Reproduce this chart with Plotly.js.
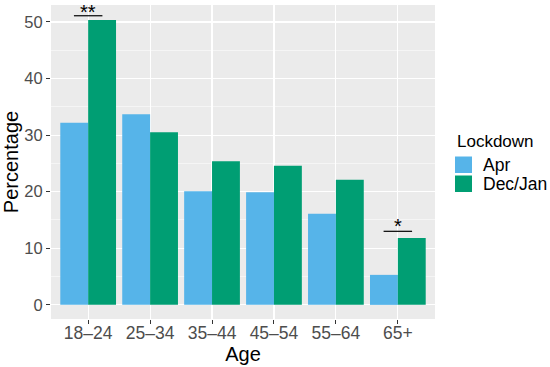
<!DOCTYPE html>
<html>
<head>
<meta charset="utf-8">
<script src="https://cdn.plot.ly/plotly-3.0.1.min.js"></script>
<style>html,body{margin:0;padding:0;background:#fff}#chart{width:550px;height:367px}</style>
</head>
<body>
<div id="chart"></div>
<script>
// ---- data ----
const ageGroups = ['18–24', '25–34', '35–44', '45–54', '55–64', '65+'];
const seriesNames = ['Apr', 'Dec/Jan'];
const aprValues = [32.2, 33.7, 20.1, 19.9, 16.1, 5.3];
const decJanValues = [50.35, 30.5, 25.4, 24.6, 22.1, 11.8];
const sigGroups = ['18–24', '65+'];
const sigLabels = ['**', '*'];
const sigBracketY = [51.1, 13.0];
const yTickVals = [0, 10, 20, 30, 40, 50];

const colors = ['#56B4E9', '#009E73'];
const FONT = 'Liberation Sans, Arial, sans-serif';

const traces = [aprValues, decJanValues].map((vals, i) => ({
  type: 'bar',
  name: seriesNames[i],
  x: ageGroups,
  y: vals,
  marker: {color: colors[i], line: {width: 0}},
  showlegend: false,
  hoverinfo: 'x+y+name'
}));

const shapes = [];
const annotations = [];
const half = 0.23;
const sigShift = [3.5, 5.5];
sigGroups.forEach((g, k) => {
  const idx = ageGroups.indexOf(g);
  shapes.push({type: 'line', xref: 'x', yref: 'y', x0: idx - half, x1: idx + half,
    y0: sigBracketY[k], y1: sigBracketY[k], line: {color: '#000', width: 1.2}});
  annotations.push({xref: 'x', yref: 'y', x: idx, y: sigBracketY[k], text: sigLabels[k],
    showarrow: false, yanchor: 'middle', yshift: sigShift[k], borderpad: 0,
    font: {family: FONT, size: 20, color: '#000'}});
});

// manual legend (ggplot-style)
const legX = 455, legTitleY = 141, keyW = 17, keyH = 16.5, keyTop0 = 156.5, keyStep = 19;
const W = 550, H = 367;
annotations.push({xref: 'paper', yref: 'paper', x: (legX - 51) / 384, y: 1 - (legTitleY - 5) / 314,
  xanchor: 'left', yanchor: 'middle', showarrow: false, text: 'Lockdown',
  font: {family: FONT, size: 17, color: '#000'}});
seriesNames.forEach((n, i) => {
  const top = keyTop0 + i * keyStep;
  shapes.push({type: 'rect', xref: 'paper', yref: 'paper',
    x0: (legX - 51) / 384, x1: (legX + keyW - 51) / 384,
    y0: 1 - (top - 5) / 314, y1: 1 - (top + keyH - 5) / 314,
    fillcolor: colors[i], line: {width: 0}});
  annotations.push({xref: 'paper', yref: 'paper', x: (legX + keyW + 9 - 51) / 384,
    y: 1 - (top + keyH / 2 - 5) / 314, xanchor: 'left', yanchor: 'middle', showarrow: false,
    text: n, font: {family: FONT, size: 17.5, color: '#000'}});
});

const layout = {
  width: W, height: H,
  margin: {l: 51, r: 115, t: 5, b: 48, pad: 0},
  paper_bgcolor: '#ffffff',
  plot_bgcolor: '#EBEBEB',
  barmode: 'group',
  bargap: 0.1,
  bargroupgap: 0,
  font: {family: FONT, color: '#4D4D4D'},
  xaxis: {
    type: 'category',
    range: [-0.6, 5.6],
    showgrid: true, gridcolor: '#ffffff', gridwidth: 1.1,
    ticks: 'outside', ticklen: 4, tickwidth: 1, tickcolor: '#333333',
    tickfont: {family: FONT, size: 17.5, color: '#4D4D4D'},
    ticklabelstandoff: -6,
    zeroline: false, showline: false, fixedrange: true,
    title: {text: 'Age', font: {family: FONT, size: 20, color: '#000'}, standoff: 2},
    automargin: false
  },
  yaxis: {
    range: [-2.5, 53],
    tickvals: yTickVals,
    showgrid: true, gridcolor: '#ffffff', gridwidth: 1.1,
    minor: {dtick: 5, tick0: 5, showgrid: true, gridcolor: '#ffffff', gridwidth: 0.5, ticks: ''},
    ticks: 'outside', ticklen: 4, tickwidth: 1, tickcolor: '#333333',
    tickfont: {family: FONT, size: 16.5, color: '#4D4D4D'},
    zeroline: false, showline: false, fixedrange: true,
    title: {text: 'Percentage', font: {family: FONT, size: 20, color: '#000'}, standoff: 4},
    automargin: false
  },
  shapes: shapes,
  annotations: annotations
};

Plotly.newPlot('chart', traces, layout, {displayModeBar: false, staticPlot: true});
</script>
</body>
</html>
